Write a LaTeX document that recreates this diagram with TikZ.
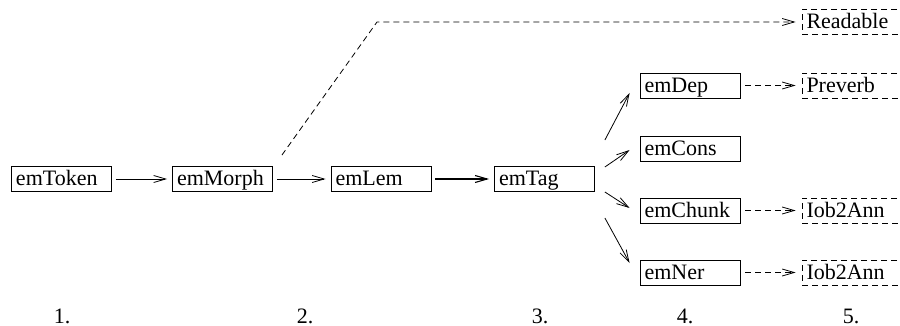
\documentclass[tikz,border=0pt]{standalone}
\usepackage{fontspec}
\setmainfont{Liberation Serif}
\usetikzlibrary{arrows.meta,calc}

\begin{document}
\begin{tikzpicture}[x=1pt,y=-1pt,line width=0.8pt,
font=\fontsize{22}{26}\selectfont,
>={Straight Barb[length=12pt,width=7pt]},
box/.style={draw,text width=91pt,inner xsep=4.5pt,inner ysep=0.25pt,
text height=19pt,text depth=5.5pt,align=left},
dbox/.style={box,dash pattern=on 6pt off 4pt}]
\useasboundingbox (0,0) rectangle (900,326);
\clip (0,0) rectangle (900,326);
\node[box] (tok) at (61.5,179) {emToken};
\node[box] (mor) at (222.5,179) {emMorph};
\node[box] (lem) at (381,179) {emLem};
\node[box] (tag) at (544.5,179) {emTag};
\node[box] (dep) at (690,85.5) {emDep};
\node[box] (con) at (690,148.5) {emCons};
\node[box] (chu) at (690,210.5) {emChunk};
\node[box] (ner) at (690,272.5) {emNer};
\node[dbox] (rea) at (852,22) {Readable};
\node[dbox] (pre) at (852,85.5) {Preverb};
\node[dbox] (iob1) at (852,210.5) {Iob2Ann};
\node[dbox] (iob2) at (852,272.5) {Iob2Ann};
\foreach \n/\x in {1/62,2/305,3/540,4/685,5/851}
\node[anchor=base] (n\n) at (\x,323) {\n.};
\path[->,shorten <=4pt,shorten >=5pt]
(tok) edge (mor)
(mor) edge (lem)
(lem) edge[line width=1.1pt] (tag);
\path[->]
([shift={(10,-39)}]tag.east) edge ([shift={(-10,7.5)}]dep.west)
([shift={(10,-12)}]tag.east) edge ([shift={(-10,1.5)}]con.west)
([shift={(10,13)}]tag.east) edge ([shift={(-10,-2.5)}]chu.west)
([shift={(10,39)}]tag.east) edge ([shift={(-10,-9.5)}]ner.west);
\path[->,dash pattern=on 6pt off 4pt,shorten <=5pt,shorten >=6pt]
(dep) edge (pre)
(chu) edge (iob1)
(ner) edge (iob2);
\draw[->,dash pattern=on 6pt off 4pt,shorten >=6pt]
([shift={(9,-11)}]mor.north east) -- (377,0 |- rea.west) -- (rea.west);
\end{tikzpicture}
\end{document}
